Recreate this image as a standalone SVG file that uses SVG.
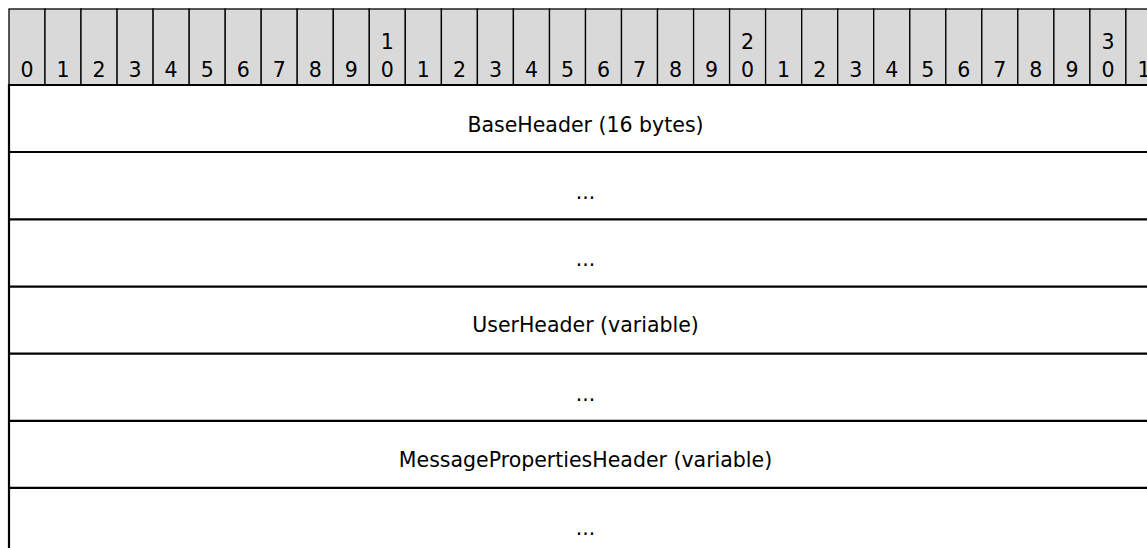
<svg xmlns="http://www.w3.org/2000/svg" width="1147" height="548" viewBox="0 0 1147 548">
<style>
text{font-family:"DejaVu Sans",Verdana,sans-serif;font-size:20.5px;fill:#000;text-anchor:middle}
.cell{fill:#d9d9d9;stroke:#000;stroke-width:1.3}
.row{stroke:#000;stroke-width:2.2;fill:none}
</style>
<rect width="1147" height="548" fill="#fff"/>
<g id="header">
<rect class="cell" x="9" y="9" width="36" height="76"/><text x="27" y="77">0</text>
<rect class="cell" x="45" y="9" width="36" height="76"/><text x="63" y="77">1</text>
<rect class="cell" x="81" y="9" width="36.1" height="76"/><text x="99" y="77">2</text>
<rect class="cell" x="117.1" y="9" width="36" height="76"/><text x="135.1" y="77">3</text>
<rect class="cell" x="153.1" y="9" width="36.1" height="76"/><text x="171.1" y="77">4</text>
<rect class="cell" x="189.2" y="9" width="36" height="76"/><text x="207.2" y="77">5</text>
<rect class="cell" x="225.2" y="9" width="36" height="76"/><text x="243.2" y="77">6</text>
<rect class="cell" x="261.2" y="9" width="36" height="76"/><text x="279.2" y="77">7</text>
<rect class="cell" x="297.2" y="9" width="36.1" height="76"/><text x="315.2" y="77">8</text>
<rect class="cell" x="333.3" y="9" width="36" height="76"/><text x="351.3" y="77">9</text>
<rect class="cell" x="369.3" y="9" width="36" height="76"/><text x="387.3" y="49">1</text><text x="387.3" y="77">0</text>
<rect class="cell" x="405.3" y="9" width="36.1" height="76"/><text x="423.3" y="77">1</text>
<rect class="cell" x="441.4" y="9" width="36" height="76"/><text x="459.4" y="77">2</text>
<rect class="cell" x="477.4" y="9" width="36" height="76"/><text x="495.4" y="77">3</text>
<rect class="cell" x="513.4" y="9" width="36.1" height="76"/><text x="531.4" y="77">4</text>
<rect class="cell" x="549.5" y="9" width="36" height="76"/><text x="567.5" y="77">5</text>
<rect class="cell" x="585.5" y="9" width="36" height="76"/><text x="603.5" y="77">6</text>
<rect class="cell" x="621.5" y="9" width="36" height="76"/><text x="639.5" y="77">7</text>
<rect class="cell" x="657.5" y="9" width="36.1" height="76"/><text x="675.5" y="77">8</text>
<rect class="cell" x="693.6" y="9" width="36" height="76"/><text x="711.6" y="77">9</text>
<rect class="cell" x="729.6" y="9" width="36" height="76"/><text x="747.6" y="49">2</text><text x="747.6" y="77">0</text>
<rect class="cell" x="765.6" y="9" width="36.1" height="76"/><text x="783.6" y="77">1</text>
<rect class="cell" x="801.7" y="9" width="36" height="76"/><text x="819.7" y="77">2</text>
<rect class="cell" x="837.7" y="9" width="36" height="76"/><text x="855.7" y="77">3</text>
<rect class="cell" x="873.7" y="9" width="36.1" height="76"/><text x="891.7" y="77">4</text>
<rect class="cell" x="909.8" y="9" width="36" height="76"/><text x="927.8" y="77">5</text>
<rect class="cell" x="945.8" y="9" width="36" height="76"/><text x="963.8" y="77">6</text>
<rect class="cell" x="981.8" y="9" width="36" height="76"/><text x="999.8" y="77">7</text>
<rect class="cell" x="1017.8" y="9" width="36.1" height="76"/><text x="1035.8" y="77">8</text>
<rect class="cell" x="1053.9" y="9" width="36" height="76"/><text x="1071.9" y="77">9</text>
<rect class="cell" x="1089.9" y="9" width="36" height="76"/><text x="1107.9" y="49">3</text><text x="1107.9" y="77">0</text>
<rect class="cell" x="1125.9" y="9" width="36" height="76"/><text x="1143.9" y="77">1</text>
</g>
<g id="connectors">
<line class="row" x1="9" y1="85" x2="1147" y2="85"/>
<line class="row" x1="9" y1="84" x2="9" y2="548"/>
</g>
<g id="row-baseheader"><line class="row" x1="9" y1="152" x2="1147" y2="152"/><text x="585.5" y="132">BaseHeader (16 bytes)</text></g>
<g id="row-2"><line class="row" x1="9" y1="219.3" x2="1147" y2="219.3"/><text x="585.5" y="199">...</text></g>
<g id="row-3"><line class="row" x1="9" y1="286.6" x2="1147" y2="286.6"/><text x="585.5" y="266">...</text></g>
<g id="row-userheader"><line class="row" x1="9" y1="353.7" x2="1147" y2="353.7"/><text x="585.5" y="332">UserHeader (variable)</text></g>
<g id="row-5"><line class="row" x1="9" y1="420.8" x2="1147" y2="420.8"/><text x="585.5" y="400.5">...</text></g>
<g id="row-messageproperties"><line class="row" x1="9" y1="487.8" x2="1147" y2="487.8"/><text x="585.5" y="467">MessagePropertiesHeader (variable)</text></g>
<g id="row-7"><text x="585.5" y="534.5">...</text></g>
</svg>
